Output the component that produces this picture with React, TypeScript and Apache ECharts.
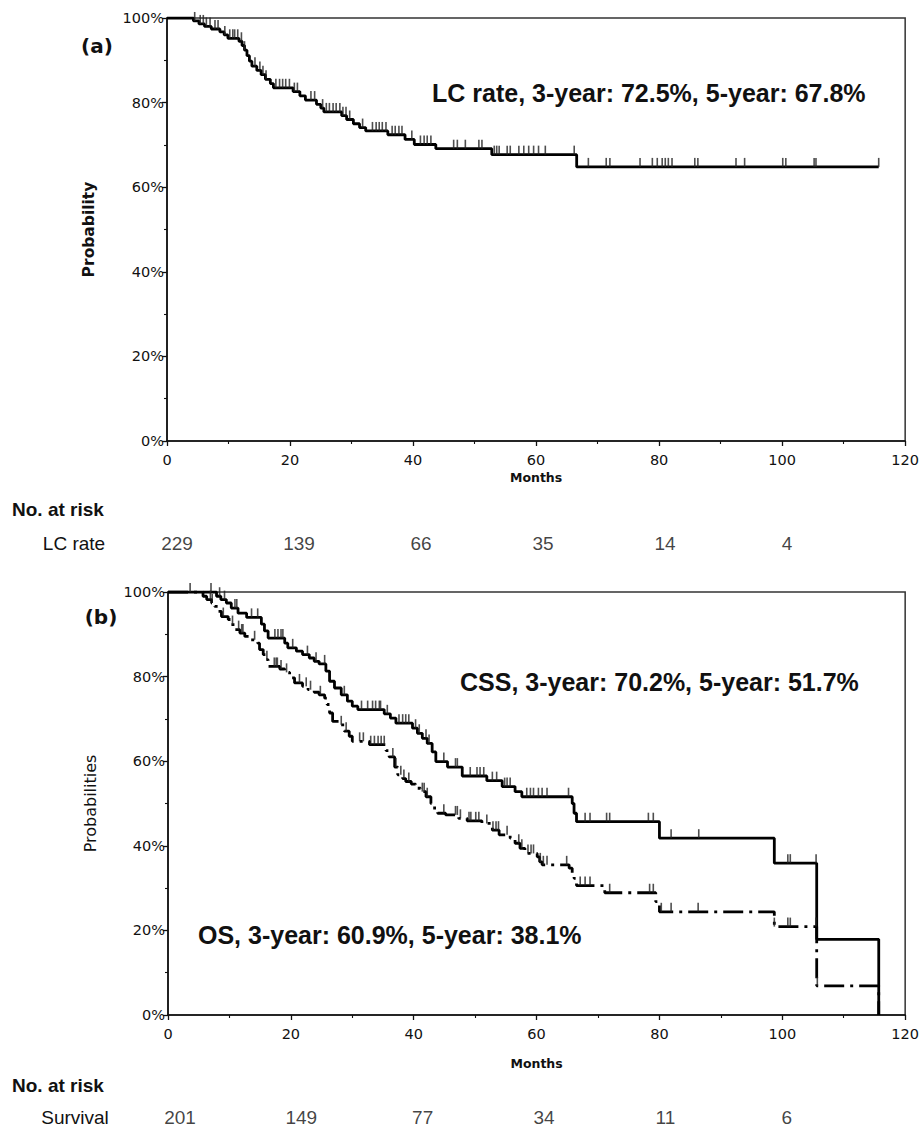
import React, { useEffect, useRef } from "react";
import * as echarts from "echarts";

// ---------- Panel (a): local control ----------
const lcTimes = [0, 4.3, 5.2, 6.1, 7.2, 8.6, 9.3, 9.9, 11.7, 12.2, 12.6, 13.0, 13.4, 13.8, 14.6, 15.3, 16.0, 16.8, 17.3, 20.5, 21.6, 22.5, 24.3, 25.0, 25.5, 28.4, 29.2, 30.3, 31.3, 32.3, 35.9, 38.7, 40.2, 43.7, 52.8, 66.6, 115.7];
const lcSurv = [100, 99.3, 98.6, 98.0, 97.4, 96.7, 96.0, 95.2, 94.5, 93.5, 92.4, 91.1, 89.8, 88.6, 87.6, 86.6, 85.5, 84.5, 83.5, 82.6, 81.6, 80.6, 79.6, 78.7, 77.8, 76.9, 76.0, 75.0, 74.1, 73.3, 72.4, 71.3, 70.1, 69.1, 67.7, 64.8, 64.8];
const lcCensor = [4.5, 5.4, 5.9, 6.4, 7.0, 7.8, 8.3, 9.4, 10.2, 10.7, 11.0, 11.5, 12.1, 12.6, 14.3, 15.1, 15.6, 16.1, 17.7, 18.3, 18.8, 19.3, 19.9, 20.7, 21.2, 23.4, 24.0, 25.3, 25.9, 26.4, 27.0, 27.5, 28.1, 28.6, 29.1, 29.7, 31.8, 33.4, 34.0, 34.5, 35.0, 35.6, 36.6, 37.1, 37.7, 38.2, 39.8, 41.2, 41.8, 42.3, 42.9, 46.6, 47.2, 48.5, 50.7, 51.2, 53.2, 53.6, 54.0, 55.3, 55.8, 57.2, 58.0, 58.8, 59.6, 60.4, 61.5, 66.2, 68.5, 71.4, 72.0, 76.9, 78.9, 79.7, 80.5, 81.0, 81.5, 82.1, 85.8, 86.3, 92.5, 93.9, 100.1, 100.6, 105.2, 105.5, 115.7];

// ---------- Panel (b): cause-specific survival ----------
const cssTimes = [0, 7.9, 8.6, 9.5, 10.3, 11.4, 12.8, 15.2, 15.7, 16.3, 19.0, 19.5, 20.9, 21.9, 23.0, 23.8, 24.6, 25.7, 26.3, 27.1, 28.2, 29.2, 30.0, 30.9, 35.2, 36.2, 37.1, 39.8, 40.6, 41.4, 42.2, 43.0, 43.6, 45.5, 47.9, 51.9, 54.4, 56.5, 57.6, 65.8, 66.1, 66.5, 80.0, 98.7, 105.6, 115.7];
const cssSurv = [100, 99.0, 98.2, 97.4, 96.2, 95.0, 94.0, 92.4, 90.8, 89.1, 87.9, 86.8, 86.0, 85.2, 84.4, 83.6, 83.0, 81.3, 78.9, 77.3, 75.7, 74.2, 73.0, 72.2, 71.2, 70.2, 69.0, 67.8, 66.6, 65.4, 64.2, 62.2, 59.9, 58.6, 56.5, 55.4, 54.0, 52.8, 51.6, 50.0, 47.7, 45.7, 41.8, 35.9, 17.9, 0];
const cssCensor = [3.6, 7.0, 8.4, 9.2, 10.9, 11.2, 13.6, 14.6, 17.4, 17.9, 18.4, 18.7, 20.3, 22.7, 24.1, 25.5, 28.7, 31.5, 32.5, 33.3, 33.8, 34.4, 34.6, 35.7, 37.6, 38.2, 38.7, 39.2, 40.3, 40.9, 42.0, 42.5, 44.9, 46.8, 47.1, 49.2, 50.3, 50.8, 51.4, 52.8, 53.5, 54.8, 55.2, 55.7, 58.4, 59.0, 59.5, 60.3, 60.9, 61.7, 65.2, 67.9, 68.7, 71.4, 71.9, 78.2, 79.0, 81.9, 86.4, 100.9, 101.3, 105.5];

// ---------- Panel (b): overall survival ----------
const osTimes = [0, 5.7, 6.3, 7.1, 7.6, 8.2, 8.7, 9.8, 10.3, 10.9, 11.7, 12.5, 13.3, 14.6, 14.9, 15.5, 16.0, 16.3, 18.2, 19.0, 19.8, 20.6, 21.9, 22.8, 23.8, 24.6, 25.5, 25.9, 26.3, 26.8, 27.9, 28.7, 29.5, 30.0, 32.8, 35.5, 36.0, 36.9, 37.4, 38.2, 38.7, 39.6, 40.3, 41.1, 42.0, 42.8, 43.4, 43.9, 45.2, 47.3, 48.7, 51.1, 52.8, 53.9, 55.7, 56.5, 57.3, 58.1, 60.1, 60.5, 60.9, 65.3, 65.8, 66.1, 66.5, 71.1, 79.4, 80.0, 98.7, 105.6, 115.7];
const osSurv = [100, 99.0, 98.2, 97.4, 96.6, 95.4, 94.2, 93.5, 92.3, 91.1, 90.3, 89.5, 88.7, 87.9, 86.4, 85.2, 84.0, 82.4, 81.8, 81.0, 79.7, 78.5, 77.7, 76.9, 76.3, 75.7, 74.9, 73.4, 71.4, 69.4, 68.6, 67.1, 65.9, 64.7, 63.9, 62.5, 61.0, 58.6, 56.8, 55.9, 55.2, 54.6, 53.6, 52.8, 51.6, 50.0, 48.5, 47.7, 47.3, 46.5, 45.9, 45.3, 43.7, 42.6, 41.8, 40.6, 39.4, 38.2, 37.4, 36.2, 35.5, 34.7, 33.5, 32.3, 30.6, 28.9, 26.8, 24.4, 20.9, 6.9, 0];
const osCensor = [6.9, 7.2, 9.0, 10.5, 11.5, 12.0, 12.2, 14.1, 16.1, 17.3, 17.6, 17.8, 18.4, 19.3, 21.4, 22.5, 23.2, 24.8, 28.2, 29.0, 31.2, 31.8, 33.0, 33.6, 34.2, 34.7, 35.2, 36.6, 37.1, 37.9, 38.4, 39.2, 41.4, 41.7, 42.2, 44.9, 46.8, 47.1, 47.6, 49.0, 49.3, 50.1, 50.6, 51.9, 52.9, 53.4, 53.8, 55.2, 57.1, 57.6, 58.6, 59.1, 59.5, 60.6, 61.1, 61.7, 64.9, 67.1, 67.9, 68.7, 71.9, 78.4, 79.0, 80.3, 81.9, 86.3, 98.7, 100.9, 101.3, 105.5, 105.7];

// ---------- Numbers at risk ----------
const riskMonths = [0, 20, 40, 60, 80, 100];
const lcAtRisk = [229, 139, 66, 35, 14, 4];
const survAtRisk = [201, 149, 77, 34, 11, 6];

const TICK_FONT = "DejaVu Sans";
const TEXT_FONT = "Liberation Sans";

function steps(times: number[], surv: number[]) {
  return times.map((t, i) => [t, surv[i]]);
}
function valueAt(times: number[], surv: number[], t: number) {
  let v = surv[0];
  for (let i = 0; i < times.length; i++) {
    if (times[i] <= t) v = surv[i];
    else break;
  }
  return v;
}
function censorPoints(times: number[], surv: number[], cens: number[]) {
  return cens.map((c) => [c, valueAt(times, surv, c)]);
}

function xAxisFor(gridIndex: number, nameGap: number) {
  return {
    type: "value",
    gridIndex,
    min: 0,
    max: 120,
    interval: 20,
    name: "Months",
    nameLocation: "middle",
    nameGap,
    nameTextStyle: { fontFamily: TICK_FONT, fontWeight: "bold", fontSize: 12.5, color: "#111" },
    axisLine: { show: true, onZero: false, lineStyle: { color: "#111", width: 1.6 } },
    axisTick: { show: true, length: 5, lineStyle: { color: "#111", width: 1.3 } },
    minorTick: { show: true, splitNumber: 2, length: 3, lineStyle: { color: "#111", width: 1.1 } },
    axisLabel: { fontFamily: TICK_FONT, fontSize: 14.5, color: "#111", margin: 11 },
    splitLine: { show: false },
    minorSplitLine: { show: false },
  };
}
function yAxisFor(gridIndex: number, name: string, bold: boolean, nameGap: number, nameSize: number) {
  return {
    type: "value",
    gridIndex,
    min: 0,
    max: 100,
    interval: 20,
    name,
    nameLocation: "middle",
    nameGap,
    nameTextStyle: { fontFamily: TICK_FONT, fontWeight: bold ? "bold" : "normal", fontSize: nameSize, color: "#111" },
    axisLine: { show: true, onZero: false, lineStyle: { color: "#111", width: 1.6 } },
    axisTick: { show: true, length: 5, lineStyle: { color: "#111", width: 1.3 } },
    minorTick: { show: true, splitNumber: 2, length: 3, lineStyle: { color: "#111", width: 1.1 } },
    axisLabel: { fontFamily: TICK_FONT, fontSize: 14.5, color: "#111", margin: 3, formatter: "{value}%" },
    splitLine: { show: false },
    minorSplitLine: { show: false },
  };
}
function hiddenX(gridIndex: number) {
  return { type: "value", gridIndex, min: 0, max: 120, show: false };
}
function hiddenY(gridIndex: number) {
  return { type: "value", gridIndex, min: 0, max: 1, show: false };
}

function kmLine(name: string, times: number[], surv: number[], axis: number, dashed: boolean) {
  return {
    name,
    type: "line",
    step: "end",
    xAxisIndex: axis,
    yAxisIndex: axis,
    data: steps(times, surv),
    showSymbol: false,
    symbol: "none",
    lineStyle: { color: "#000", width: 2.8, type: dashed ? [20, 6, 3, 6] : "solid" },
    z: 3,
  };
}
function censorSeries(name: string, times: number[], surv: number[], cens: number[], axis: number) {
  return {
    name,
    type: "scatter",
    xAxisIndex: axis,
    yAxisIndex: axis,
    data: censorPoints(times, surv, cens),
    symbol: "rect",
    symbolSize: [1.6, 9],
    symbolOffset: [0, -4.5],
    itemStyle: { color: "#222" },
    z: 4,
  };
}
function riskSeries(counts: number[], axis: number) {
  return {
    type: "scatter",
    xAxisIndex: axis,
    yAxisIndex: axis,
    data: riskMonths.map((m, i) => [m, 0.5, counts[i]]),
    symbolSize: 1,
    itemStyle: { color: "rgba(0,0,0,0)" },
    label: {
      show: true,
      position: "inside",
      formatter: (p: any) => String(p.value[2]),
      fontFamily: TEXT_FONT,
      fontSize: 19,
      color: "#111",
    },
  };
}
function txt(text: string, x: number, y: number, size: number, bold: boolean, family: string, align: string = "left") {
  return {
    type: "text",
    style: {
      text,
      x,
      y,
      font: `${bold ? "bold " : ""}${size}px "${family}"`,
      fill: "#111",
      align,
      verticalAlign: "middle",
      textAlign: align,
      textVerticalAlign: "middle",
    },
    z: 10,
  };
}

export default function App() {
  const ref = useRef<HTMLDivElement>(null);
  useEffect(() => {
    if (!ref.current) return;
    const chart = echarts.init(ref.current, undefined, { renderer: "svg" });
    chart.setOption({
      animation: false,
      backgroundColor: "#fff",
      grid: [
        { left: 167, top: 18, width: 741, height: 423, show: true, borderColor: "#333", borderWidth: 1.5, backgroundColor: "transparent" },
        { left: 177, top: 533, width: 732, height: 20 },
        { left: 168, top: 592, width: 740, height: 423, show: true, borderColor: "#333", borderWidth: 1.5, backgroundColor: "transparent" },
        { left: 180, top: 1107, width: 728, height: 20 },
      ],
      xAxis: [xAxisFor(0, 30), hiddenX(1), xAxisFor(2, 42), hiddenX(3)],
      yAxis: [yAxisFor(0, "Probability", true, 70, 15.5), hiddenY(1), yAxisFor(2, "Probabilities", false, 70, 16), hiddenY(3)],
      series: [
        kmLine("LC rate", lcTimes, lcSurv, 0, false),
        censorSeries("LC censored", lcTimes, lcSurv, lcCensor, 0),
        riskSeries(lcAtRisk, 1),
        kmLine("CSS", cssTimes, cssSurv, 2, false),
        censorSeries("CSS censored", cssTimes, cssSurv, cssCensor, 2),
        kmLine("OS", osTimes, osSurv, 2, true),
        censorSeries("OS censored", osTimes, osSurv, osCensor, 2),
        riskSeries(survAtRisk, 3),
      ],
      graphic: [
        txt("(a)", 97, 46, 20, true, TICK_FONT, "center"),
        txt("LC rate, 3-year: 72.5%, 5-year: 67.8%", 432, 93, 25, true, TEXT_FONT),
        txt("No. at risk", 12, 509, 19, true, TEXT_FONT),
        txt("LC rate", 74, 543, 19, false, TEXT_FONT, "center"),
        txt("(b)", 101, 617, 20, true, TICK_FONT, "center"),
        txt("CSS, 3-year: 70.2%, 5-year: 51.7%", 460, 682, 25, true, TEXT_FONT),
        txt("OS, 3-year: 60.9%, 5-year: 38.1%", 198, 935, 25, true, TEXT_FONT),
        txt("No. at risk", 12, 1085, 19, true, TEXT_FONT),
        txt("Survival", 75, 1117, 19, false, TEXT_FONT, "center"),
      ],
    });
    return () => chart.dispose();
  }, []);
  return <div ref={ref} style={{ position: "absolute", left: 0, top: 0, width: 922, height: 1127 }} />;
}
